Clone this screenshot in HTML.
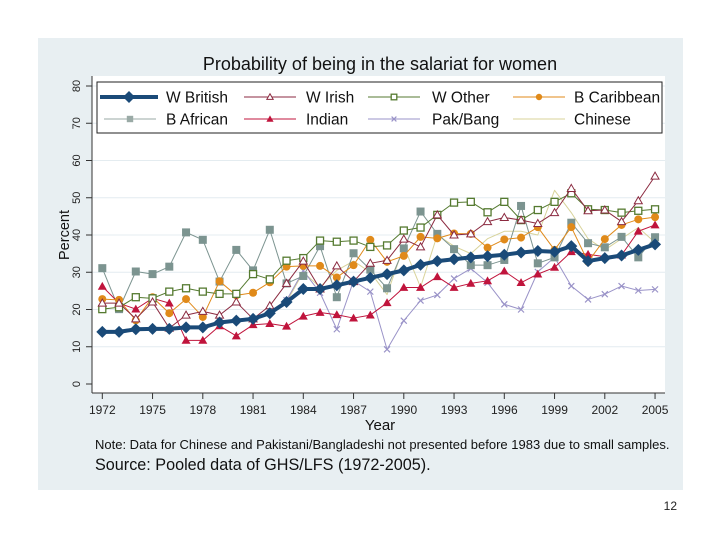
<!DOCTYPE html>
<html><head><meta charset="utf-8"><style>
body{margin:0;background:#fff;}
svg{display:block;font-family:"Liberation Sans",Arial,sans-serif;}
</style></head><body>
<svg id="c" width="720" height="540" viewBox="0 0 720 540">
<rect x="38" y="38" width="645" height="452" fill="#e8eff2"/>
<rect x="92" y="76" width="573" height="317" fill="#fff"/>
<text x="380" y="70" font-size="18" text-anchor="middle" fill="#111">Probability of being in the salariat for women</text>
<g id="grid"></g>
<g id="axes"></g>
<g id="series"></g>
<g id="legend">
<rect x="97" y="82" width="565" height="51" fill="#fff" stroke="#222" stroke-width="1"/>
</g>
<text x="69" y="235" font-size="14.5" text-anchor="middle" transform="rotate(-90 69 235)" fill="#111">Percent</text>
<text x="380" y="430" font-size="15" text-anchor="middle" fill="#111">Year</text>
<text x="95" y="449" font-size="13" fill="#111">Note: Data for Chinese and Pakistani/Bangladeshi not presented before 1983 due to small samples.</text>
<text x="95" y="470" font-size="16.2" fill="#111">Source: Pooled data of GHS/LFS (1972-2005).</text>
<text x="677" y="510" font-size="12" text-anchor="end" fill="#222">12</text>
</svg>
<script>
const years=[1972,1973,1974,1975,1976,1977,1978,1979,1980,1981,1982,1983,1984,1985,1986,1987,1988,1989,1990,1991,1992,1993,1994,1995,1996,1997,1998,1999,2000,2001,2002,2003,2004,2005];
const xTicks=[1972,1975,1978,1981,1984,1987,1990,1993,1996,1999,2002,2005];
const yTicks=[0,10,20,30,40,50,60,70,80];
const wBritish=[14,14,14.7,14.8,14.8,15.2,15.2,16.5,17,17.5,19,22,25.5,25.5,26.5,27.5,28.5,29.5,30.5,32,33,33.5,34,34.3,34.7,35.3,35.7,35.5,37,33,33.8,34.5,36,37.5];
const wIrish=[21.7,21.7,17.5,22,15,18.5,19.5,18.5,22,17.5,21,27,33,25.5,31.7,27.5,32.4,33.2,38.9,36.8,45.4,40,40.3,43.6,44.7,44,43.1,46,52.5,46.5,46.7,43.6,49.2,55.8];
const wOther=[20.1,20.6,23.3,23,24.8,25.7,24.8,24.2,24.2,29.5,28.1,33.1,33.8,38.5,38.2,38.5,36.8,37.2,41.2,42,45.4,48.7,48.9,46.1,48.9,44,46.7,48.9,51.2,46.9,46.7,46,46.5,46.9];
const bCaribbean=[22.8,22.6,17.1,23.3,19,22.8,18,27.6,23.8,24.5,27.3,31.5,31.7,31.7,28.6,31.9,38.7,32.8,34.4,39.5,39.1,40.4,40.3,36.6,38.8,39.3,42.1,36,42.1,32.8,38.9,42.7,44.2,44.8];
const bAfrican=[31.1,20.1,30.2,29.5,31.5,40.7,38.7,27.5,36,30.5,41.4,27,29,37,23.3,35.1,30.7,25.7,36.4,46.3,40.3,36.2,31.9,31.9,33.3,47.8,32.4,34,43.3,37.8,36.7,39.5,34,39.4];
const indian=[26.2,21.7,20.1,23,21.7,11.7,11.7,15.6,12.9,15.9,16.2,15.5,18.2,19.2,18.6,17.7,18.5,21.8,25.9,25.9,28.8,25.9,27,27.7,30.3,27.2,29.5,31.3,35.5,34.8,34.2,34.6,41,42.7];
const pakBang=[null,null,null,null,null,null,null,null,null,null,null,22.5,30.4,24.5,14.7,27.7,24.8,9.3,17,22.4,23.9,28.3,31,27.2,21.4,20,30.1,34,26.3,22.7,24.1,26.3,25.1,25.4];
const chinese=[null,null,null,null,null,null,null,null,null,null,null,22,30,26,30.5,33,30,24,37,26,40,37,35,39,41,41,40,52,46,39,36,39,42,38];

const NS="http://www.w3.org/2000/svg";
const X=y=>102.3+(y-1972)*16.75;
const Y=v=>384-v*3.725;
function mk(tag,attrs,parent){const e=document.createElementNS(NS,tag);for(const k in attrs)e.setAttribute(k,attrs[k]);parent.appendChild(e);return e;}
const grid=document.getElementById('grid'),axes=document.getElementById('axes'),ser=document.getElementById('series'),leg=document.getElementById('legend');
yTicks.forEach(t=>{
  if(t>0){const g=mk('line',{x1:92,x2:665,y1:Y(t),y2:Y(t),stroke:'#e4ecf0','stroke-width':1},grid);
  
  }
  mk('line',{x1:86,x2:92,y1:Y(t),y2:Y(t),stroke:'#333'},axes);
  const tx=mk('text',{x:80,y:Y(t),'font-size':11,'text-anchor':'middle',fill:'#222',transform:`rotate(-90 80 ${Y(t)})`},axes);
  tx.textContent=t;
  
  
});
xTicks.forEach(t=>{
  mk('line',{x1:X(t),x2:X(t),y1:393,y2:399,stroke:'#333'},axes);
  const tx=mk('text',{x:X(t),y:414,'font-size':12,'text-anchor':'middle',fill:'#222'},axes);
  tx.textContent=t;
  
  
});
const ya=mk('line',{x1:92,x2:92,y1:76,y2:393,stroke:'#333'},axes);


const xa=mk('line',{x1:92,x2:665,y1:393,y2:393,stroke:'#333'},axes);



function marker(type,x,y,color,s,parent){
  if(type==='diamond')return mk('polygon',{points:`${x},${y-s} ${x+s},${y} ${x},${y+s} ${x-s},${y}`,fill:color},parent);
  if(type==='tri')return mk('polygon',{points:`${x},${y-s} ${x+s},${y+s*0.75} ${x-s},${y+s*0.75}`,fill:'#fff',stroke:color,'stroke-width':1},parent);
  if(type==='ftri')return mk('polygon',{points:`${x},${y-s} ${x+s},${y+s*0.75} ${x-s},${y+s*0.75}`,fill:color},parent);
  if(type==='sq')return mk('rect',{x:x-s,y:y-s,width:2*s,height:2*s,fill:'#fff',stroke:color,'stroke-width':1.3},parent);
  if(type==='fsq')return mk('rect',{x:x-s,y:y-s,width:2*s,height:2*s,fill:color},parent);
  if(type==='circ')return mk('circle',{cx:x,cy:y,r:s,fill:color},parent);
  if(type==='x'){const g=mk('path',{d:`M${x-s},${y-s}L${x+s},${y+s}M${x-s},${y+s}L${x+s},${y-s}`,stroke:color,'stroke-width':1.2},parent);return g;}
  return null;
}
const seriesDefs=[
 {name:'chinese',label:'Chinese',data:chinese,color:'#d8d39a',w:1,m:null,s:0},
 {name:'pak-bang',label:'Pak/Bang',data:pakBang,color:'#9a93c8',w:1,m:'x',s:3},
 {name:'b-african',label:'B African',data:bAfrican,color:'#7c9490',w:1,m:'fsq',s:4},
 {name:'indian',label:'Indian',data:indian,color:'#c0143c',w:1,m:'ftri',s:4.5},
 {name:'b-caribbean',label:'B Caribbean',data:bCaribbean,color:'#e08a1a',w:1,m:'circ',s:4},
 {name:'w-other',label:'W Other',data:wOther,color:'#557a30',w:1,m:'sq',s:3.5},
 {name:'w-irish',label:'W Irish',data:wIrish,color:'#8b2a40',w:1,m:'tri',s:4},
 {name:'w-british',label:'W British',data:wBritish,color:'#1a4a78',w:4,m:'diamond',s:6}
];
seriesDefs.forEach(sd=>{
  const g=mk('g',{},ser);
  
  
  let d='',pen=false;
  sd.data.forEach((v,i)=>{if(v==null){pen=false;return;}d+=(pen?'L':'M')+X(years[i])+','+Y(v);pen=true;});
  mk('path',{d:d,fill:'none',stroke:sd.color,'stroke-width':sd.w,'stroke-linejoin':'round'},g);
  if(sd.m)sd.data.forEach((v,i)=>{if(v==null)return;const p=marker(sd.m,X(years[i]),Y(v),sd.color,sd.s,g);
    
    });
});
const legItems=[
 ['W British',100,166,97,'#1a4a78',4,'diamond',6],['W Irish',244,306,97,'#8b2a40',1,'tri',4],['W Other',368,432,97,'#557a30',1,'sq',3.5],['B Caribbean',513,574,97,'#e08a1a',1,'circ',4],
 ['B African',104,166,119,'#9aaaa6',1,'fsq',4],['Indian',244,306,119,'#c0143c',1,'ftri',4.5],['Pak/Bang',368,432,119,'#9a93c8',1,'x',3],['Chinese',513,574,119,'#d8d39a',1,null,0]
];
legItems.forEach(it=>{
  const [lab,lx,tx,y,col,w,m,s]=it;
  const g=mk('g',{},leg);
  
  
  const x2=lx+(lx===100?58:52);
  mk('line',{x1:lx,x2:x2,y1:y,y2:y,stroke:col,'stroke-width':w},g);
  if(m)marker(m,(lx+x2)/2,y,col,s*(m==='diamond'?1:0.8),g);
  const t=mk('text',{x:tx,y:y+5.5,'font-size':15.5,fill:'#111'},g);
  t.textContent=lab;
});
</script>
</body></html>
